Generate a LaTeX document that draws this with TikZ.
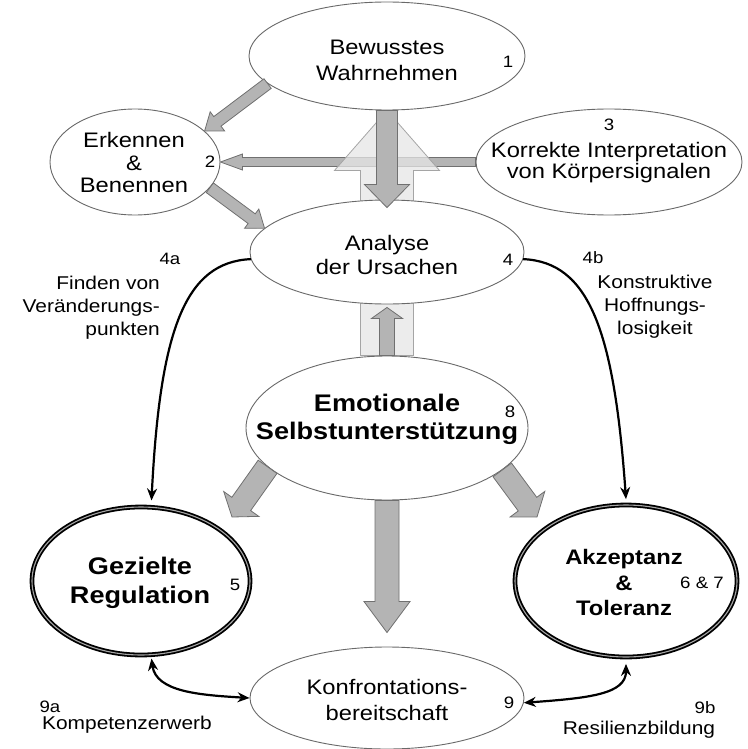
\documentclass[tikz,border=0pt]{standalone}
\usepackage{fontspec}
\setmainfont{Liberation Sans}[FakeStretch=1.13]
\usepackage{tikz}
\usetikzlibrary{positioning,calc}
\usetikzlibrary{arrows.meta,shapes.geometric,backgrounds}
\definecolor{ArrowFill}{RGB}{180,180,180}
\definecolor{ArrowEdge}{RGB}{112,112,112}
\definecolor{GhostFill}{RGB}{230,230,230}
\definecolor{GhostEdge}{RGB}{165,165,165}
\definecolor{RingGray}{RGB}{105,105,105}
\tikzset{
  bubble/.style={ellipse,draw=RingGray,fill=white,line width=0.9pt,inner sep=0pt},
  ring/.style={ellipse,draw=black,fill=white,line width=1.8pt,double=black!35,double distance=1.1pt,inner sep=0pt},
  txt/.style={align=center,inner sep=0pt},
  plain/.style={txt,font=\fontsize{21pt}{#1}\selectfont},
  heavy/.style={txt,font=\fontsize{24pt}{#1}\selectfont\bfseries},
  num/.style={inner sep=0pt,font=\fontsize{16.5pt}{18pt}\selectfont},
  note/.style={inner sep=0pt,font=\fontsize{18.5pt}{23pt}\selectfont},
}
\tikzset{
  arrowdims/.code args={#1/#2/#3}{%
    \pgfmathsetmacro\shafthalf{#1/2}%
    \pgfmathsetmacro\sdist{veclen(#3,#1/2)}%
    \pgfmathsetmacro\sangle{atan2(#1/2,#3)}%
    \pgfmathsetmacro\hdist{veclen(#3,#2/2)}%
    \pgfmathsetmacro\hangle{atan2(#2/2,#3)}},
  arrowdims=12/24/16,
  block/.style={draw=ArrowEdge,fill=ArrowFill,line width=0.8pt,line join=miter,
    to path={($(\tikztostart)!\shafthalf pt!-90:(\tikztotarget)$)
      -- ($(\tikztotarget)!\sdist pt!\sangle:(\tikztostart)$)
      -- ($(\tikztotarget)!\hdist pt!\hangle:(\tikztostart)$)
      -- (\tikztotarget)
      -- ($(\tikztotarget)!\hdist pt!-\hangle:(\tikztostart)$)
      -- ($(\tikztotarget)!\sdist pt!-\sangle:(\tikztostart)$)
      -- ($(\tikztostart)!\shafthalf pt!90:(\tikztotarget)$) -- cycle}},
  ghost/.style={block,draw=GhostEdge,fill=GhostFill,fill opacity=0.75},
  link/.style={draw=black,line width=2.2pt,-{Stealth[length=12pt,width=10pt]}},
  twoway/.style={draw=black,line width=2.2pt,{Stealth[length=12pt,width=10pt]}-{Stealth[length=12pt,width=10pt]}},
}
\begin{document}
\begin{tikzpicture}[x=1pt,y=-1pt]
\useasboundingbox (0,0) rectangle (747,749);
\node[bubble,minimum width=276pt,minimum height=108pt] (bew) at (387,56) {};
\node[bubble,minimum width=170pt,minimum height=106pt] (erk) at (135,162) {};
\node[bubble,minimum width=266pt,minimum height=106pt] (kor) at (609,162) {};
\node[bubble,minimum width=274pt,minimum height=104pt] (ana) at (387,252) {};
\node[bubble,minimum width=282pt,minimum height=144pt] (emo) at (387,428) {};
\node[ring,minimum width=218pt,minimum height=148pt] (gez) at (141,581) {};
\node[ring,minimum width=222pt,minimum height=152pt] (akz) at (626,581) {};
\node[bubble,minimum width=274pt,minimum height=102pt] (konf) at (387,698) {};
\node[plain=26pt] (bewtxt) at (387,60) {Bewusstes\\Wahrnehmen};
\node[plain=22.5pt] (erktxt) at (134,162.5) {Erkennen\\\&\\Benennen};
\node[plain=21.5pt] (kortxt) at (609,162.5) {Korrekte Interpretation\\von Körpersignalen};
\node[plain=24pt] (anatxt) at (387,255) {Analyse\\der Ursachen};
\node[heavy=28pt] (emotxt) at (387,419) {Emotionale\\Selbstunterstützung};
\node[heavy=29pt] (geztxt) at (140,582.5) {Gezielte\\Regulation};
\node[heavy=25.5pt,font=\fontsize{21pt}{25.5pt}\selectfont\bfseries] (akztxt) at (624,582.5) {Akzeptanz\\\&\\Toleranz};
\node[plain=26pt] (konftxt) at (387,700) {Konfrontations-\\bereitschaft};
\node[num] (n1) at (508,62) {1};
\node[num] (n2) at (210,162) {2};
\node[num] (n3) at (609,125) {3};
\node[num] (n4) at (508,260) {4};
\node[num] (n8) at (510,412) {8};
\node[num] (n5) at (235,585) {5};
\node[num] (n67) at (702,583) {6 \& 7};
\node[num] (n9) at (509,703) {9};
\node[num] (l4a) at (170,259) {4a};
\node[num] (l4b) at (593,258) {4b};
\node[num] (l9a) at (50,707) {9a};
\node[num] (l9b) at (705,708) {9b};
\node[note,align=right,anchor=east] (l4atxt) at (160,308) {Finden von\\Veränderungs-\\punkten};
\node[note,align=center] (l4btxt) at (655,307) {Konstruktive\\Hoffnungs-\\losigkeit};
\node[note] (l9atxt) at (127,725) {Kompetenzerwerb};
\node[note] (l9btxt) at (639,730) {Resilienzbildung};
\coordinate (anatop) at ([yshift=-8pt]ana.north);
\coordinate (anabot) at ([yshift=-3pt]ana.south);
\coordinate (konftop) at ([yshift=14pt]konf.north);
\coordinate (geztip) at (232,517);
\coordinate (akztip) at (537,517);
\begin{pgfonlayer}{background}
\draw[block,arrowdims=9/16/22] (kor.west) to (erk.east);
\draw[ghost,arrowdims=53/105/60] (emo.north) to (bew.south);
\end{pgfonlayer}
\draw[block,arrowdims=12/24/16] (bew.193) to (erk.24);
\draw[block,arrowdims=12/24/16] (erk.341) to (ana.169);
\draw[block,arrowdims=21/45/23] (bew.south) to (anatop);
\draw[block,arrowdims=15/31/11] (emo.north) to (anabot);
\draw[block,arrowdims=23/43/16] (emo.198) to (geztip);
\draw[block,arrowdims=23/43/16] (emo.340) to (akztip);
\draw[block,arrowdims=24/46/31] (emo.south) to (konftop);
\draw[link] (ana.183) .. controls (185,262) and (160,330) .. ([yshift=6pt]gez.82);
\draw[link] (ana.357) .. controls (589,262) and (614,330) .. ([yshift=5pt]akz.north);
\draw[twoway] ([yshift=-3pt]gez.278) .. controls (156,692) and (200,695) .. (konf.west);
\draw[twoway] (konf.358) .. controls (590,698) and (626,694) .. ([yshift=-6pt]akz.south);
\end{tikzpicture}
\end{document}
